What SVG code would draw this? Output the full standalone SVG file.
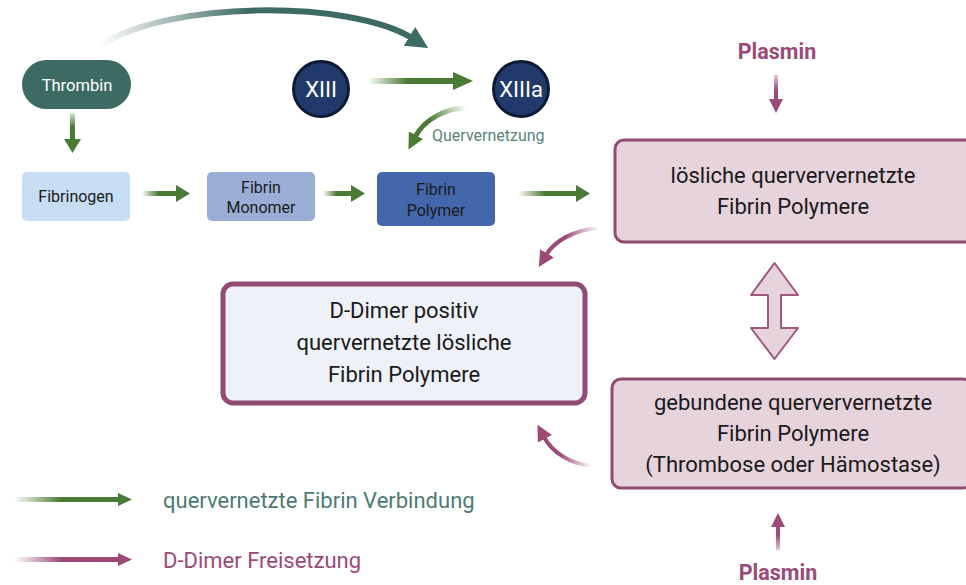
<svg xmlns="http://www.w3.org/2000/svg" width="966" height="585" viewBox="0 0 966 585">
<style>
text{font-family:Roboto,"Liberation Sans",sans-serif;text-anchor:middle}
.sm{font-size:16px;fill:#1a1a1a}
.wt{font-size:16.5px;fill:#ffffff}
.big{font-size:22px;fill:#1a1a1a}
.pl{font-size:21.5px;font-weight:bold;fill:#9b4a78}
.box{stroke:#8f4b70;stroke-width:3;fill:#e6d3dc}
</style>
<defs>
<marker id="ht" markerUnits="userSpaceOnUse" markerWidth="24" markerHeight="24" refX="3" refY="12" orient="auto"><path d="M0,1 L22,12 L0,23 Z" fill="#3d6b64"/></marker>
<marker id="hg" markerUnits="userSpaceOnUse" markerWidth="18" markerHeight="18" refX="2" refY="9" orient="auto"><path d="M0,1 L16,9 L0,17 Z" fill="#4b7a35"/></marker>
<marker id="hp" markerUnits="userSpaceOnUse" markerWidth="18" markerHeight="18" refX="2" refY="9" orient="auto"><path d="M0,1 L16,9 L0,17 Z" fill="#9b4a78"/></marker>
<linearGradient id="gTop" gradientUnits="userSpaceOnUse" x1="100" y1="0" x2="250" y2="0"><stop offset="0" stop-color="#3d6b64" stop-opacity="0"/><stop offset="1" stop-color="#3d6b64"/></linearGradient>
<linearGradient id="gG" x1="0" y1="0" x2="1" y2="0"><stop offset="0" stop-color="#4b7a35" stop-opacity="0"/><stop offset="0.45" stop-color="#4b7a35"/></linearGradient>
<linearGradient id="gP" x1="0" y1="0" x2="1" y2="0"><stop offset="0" stop-color="#9b4a78" stop-opacity="0"/><stop offset="0.45" stop-color="#9b4a78"/></linearGradient>
<linearGradient id="gQ" gradientUnits="userSpaceOnUse" x1="466" y1="108" x2="430" y2="122"><stop offset="0" stop-color="#4b7a35" stop-opacity="0"/><stop offset="1" stop-color="#4b7a35"/></linearGradient>
<linearGradient id="gP1" gradientUnits="userSpaceOnUse" x1="598" y1="228" x2="565" y2="236"><stop offset="0" stop-color="#9b4a78" stop-opacity="0"/><stop offset="1" stop-color="#9b4a78"/></linearGradient>
<linearGradient id="gP2" gradientUnits="userSpaceOnUse" x1="592" y1="466" x2="560" y2="456"><stop offset="0" stop-color="#9b4a78" stop-opacity="0"/><stop offset="1" stop-color="#9b4a78"/></linearGradient>
<linearGradient id="gV1" x1="0" y1="0" x2="0" y2="1"><stop offset="0" stop-color="#4b7a35" stop-opacity="0.2"/><stop offset="0.5" stop-color="#4b7a35"/></linearGradient>
<linearGradient id="gV2" x1="0" y1="0" x2="0" y2="1"><stop offset="0" stop-color="#9b4a78" stop-opacity="0.3"/><stop offset="0.6" stop-color="#9b4a78"/></linearGradient>
<linearGradient id="gV3" x1="0" y1="1" x2="0" y2="0"><stop offset="0" stop-color="#9b4a78" stop-opacity="0.3"/><stop offset="0.6" stop-color="#9b4a78"/></linearGradient>
</defs>

<g id="connectors">
<path d="M101,45 C170,0 350,0 412,38" fill="none" stroke="url(#gTop)" stroke-width="6" marker-end="url(#ht)"/>
<rect x="70" y="113" width="5" height="28" fill="url(#gV1)"/>
<path d="M64,139 L81,139 L72.5,153 Z" fill="#4b7a35"/>
<rect x="142" y="191" width="36" height="5" fill="url(#gG)"/>
<path d="M176,185 L190,193.5 L176,202 Z" fill="#4b7a35"/>
<rect x="323" y="191" width="30" height="5" fill="url(#gG)"/>
<path d="M351,185 L365,193.5 L351,202 Z" fill="#4b7a35"/>
<rect x="518" y="191" width="60" height="5" fill="url(#gG)"/>
<path d="M576,185 L590,193.5 L576,202 Z" fill="#4b7a35"/>
<rect x="368" y="78" width="87" height="6" fill="url(#gG)"/>
<path d="M453,72 L473,81 L453,90 Z" fill="#4b7a35"/>
<path d="M466,108 C448,108 425,118 415,137" fill="none" stroke="url(#gQ)" stroke-width="5" marker-end="url(#hg)"/>
<path d="M598,228 C575,230 555,240 546,255" fill="none" stroke="url(#gP1)" stroke-width="4" marker-end="url(#hp)"/>
<path d="M592,466 C570,464 552,452 544,437" fill="none" stroke="url(#gP2)" stroke-width="4" marker-end="url(#hp)"/>
<rect x="774" y="75" width="4" height="26" fill="url(#gV2)"/>
<path d="M769,99 L783,99 L776,113 Z" fill="#9b4a78"/>
<rect x="776" y="525" width="4" height="25" fill="url(#gV3)"/>
<path d="M771,527 L785,527 L778,513 Z" fill="#9b4a78"/>
<path d="M774.5,263 L798,295 L781,295 L781,328 L798,328 L774.5,359 L751,328 L768,328 L768,295 L751,295 Z" fill="#e6d3dc" stroke="#a0587f" stroke-width="2" stroke-linejoin="round"/>
</g>

<g id="thrombin">
<rect x="22" y="60" width="109" height="49" rx="24.5" fill="#3d6b64"/>
<text class="wt" x="77" y="91">Thrombin</text>
</g>
<g id="xiii">
<circle cx="321" cy="89" r="27.5" fill="#213a6b" stroke="#0d1a33" stroke-width="3"/>
<text x="321" y="97" style="font-size:22px;fill:#fff">XIII</text>
</g>
<g id="xiiia">
<circle cx="521" cy="89" r="27.5" fill="#213a6b" stroke="#0d1a33" stroke-width="3"/>
<text x="521" y="97" style="font-size:22px;fill:#fff">XIIIa</text>
</g>
<g id="quervernetzung-label">
<text x="432" y="141" style="font-size:16px;fill:#5a837c;text-anchor:start">Quervernetzung</text>
</g>
<g id="fibrinogen">
<rect x="22" y="172" width="108" height="49" rx="5" fill="#c6ddf3"/>
<text class="sm" x="76" y="202">Fibrinogen</text>
</g>
<g id="fibrin-monomer">
<rect x="207" y="172" width="108" height="49" rx="5" fill="#9aaed6"/>
<text class="sm" x="261" y="193">Fibrin</text>
<text class="sm" x="261" y="213">Monomer</text>
</g>
<g id="fibrin-polymer">
<rect x="377" y="172" width="118" height="54" rx="5" fill="#4466aa"/>
<text class="sm" x="436" y="195">Fibrin</text>
<text class="sm" x="436" y="216">Polymer</text>
</g>
<g id="plasmin-top">
<text class="pl" x="777" y="59">Plasmin</text>
</g>
<g id="loesliche">
<rect class="box" x="615" y="140" width="360" height="102" rx="9"/>
<text class="big" x="793" y="183">lösliche querververnetzte</text>
<text class="big" x="793" y="214">Fibrin Polymere</text>
</g>
<g id="d-dimer">
<rect x="223" y="284" width="362" height="119" rx="10" fill="#eef1f8" stroke="#8f4b70" stroke-width="5"/>
<text class="big" x="404" y="318">D-Dimer positiv</text>
<text class="big" x="404" y="350">quervernetzte lösliche</text>
<text class="big" x="404" y="382">Fibrin Polymere</text>
</g>
<g id="gebundene">
<rect class="box" x="612" y="379" width="360" height="109" rx="9"/>
<text class="big" x="793" y="410">gebundene querververnetzte</text>
<text class="big" x="793" y="441">Fibrin Polymere</text>
<text class="big" x="793" y="472">(Thrombose oder Hämostase)</text>
</g>
<g id="plasmin-bottom">
<text class="pl" x="778" y="580">Plasmin</text>
</g>
<g id="legend">
<rect x="14" y="497" width="106" height="5" fill="url(#gG)"/>
<path d="M118,493 L132,499.5 L118,506 Z" fill="#4b7a35"/>
<text x="163" y="508" style="font-size:22px;fill:#4d7a72;text-anchor:start">quervernetzte Fibrin Verbindung</text>
<rect x="14" y="557" width="106" height="5" fill="url(#gP)"/>
<path d="M118,553 L132,559.5 L118,566 Z" fill="#9b4a78"/>
<text x="163" y="568" style="font-size:22px;fill:#9b4a78;text-anchor:start">D-Dimer Freisetzung</text>
</g>
</svg>
